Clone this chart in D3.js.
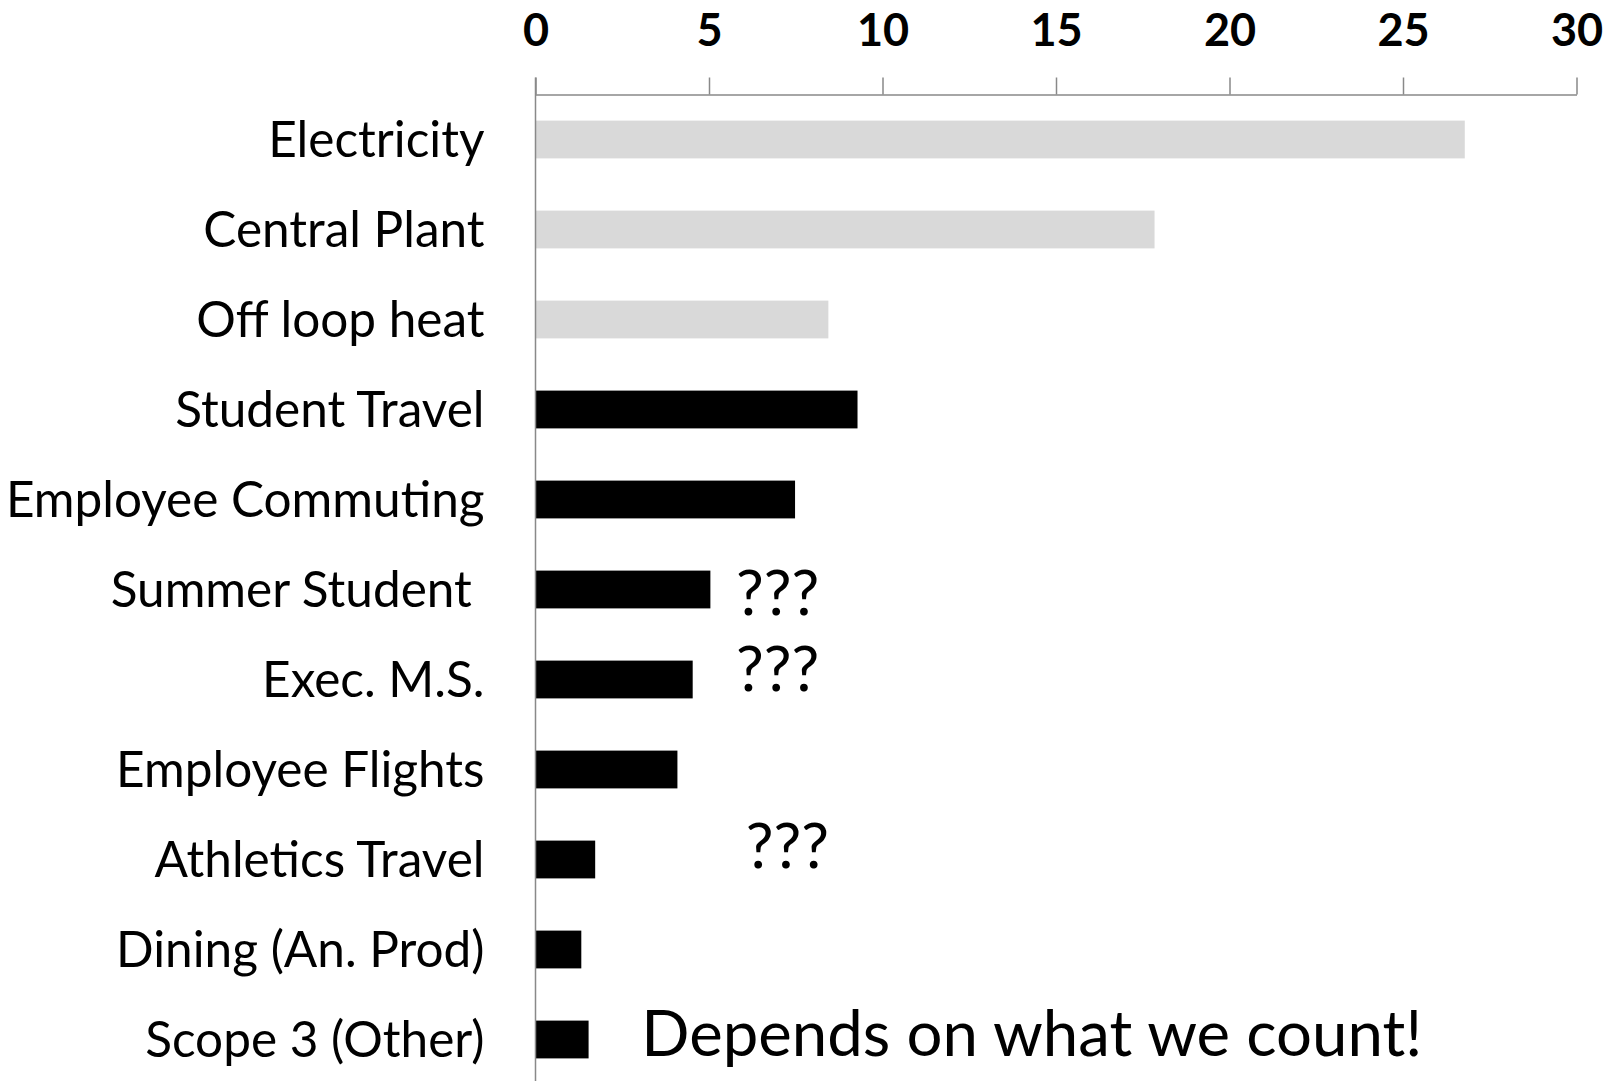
<!DOCTYPE html>
<html>
<head>
<meta charset="utf-8">
<script src="https://cdn.jsdelivr.net/npm/d3@7"></script>
<style>
  html, body { margin: 0; padding: 0; background: #fff; }
  svg { display: block; }
  text { font-family: Lato, "Open Sans", sans-serif; }
</style>
</head>
<body>
<svg id="chart" width="1608" height="1081"></svg>
<script>
// ---- data ----
const categories = ["Electricity", "Central Plant", "Off loop heat", "Student Travel",
  "Employee Commuting", "Summer Student ", "Exec. M.S.", "Employee Flights",
  "Athletics Travel", "Dining (An. Prod)", "Scope 3 (Other)"];
const values = [26.78, 17.84, 8.44, 9.28, 7.48, 5.04, 4.53, 4.09, 1.72, 1.32, 1.53];
const groups = ["energy", "energy", "energy", "travel", "travel", "travel", "travel", "travel", "travel", "travel", "travel"];
const tickValues = [0, 5, 10, 15, 20, 25, 30];
const annotations = [
  { text: "???", category: "Summer Student ", at: 5.78, dy: 25 },
  { text: "???", category: "Exec. M.S.", at: 5.78, dy: 11 },
  { text: "???", category: "Athletics Travel", at: 6.06, dy: 8.5 },
];
const note = { text: "Depends on what we count!", category: "Scope 3 (Other)", at: 3.05, dy: 16 };

// ---- layout ----
const svg = d3.select("#chart");
const x = d3.scaleLinear().domain([0, 30]).range([535.5, 1576.5]);
const y = d3.scaleBand().domain(categories).range([94.5, 1084.5]).paddingInner(0.58).paddingOuter(0.29);
const color = d3.scaleOrdinal().domain(["energy", "travel"]).range(["#d9d9d9", "#000000"]);

// bars
svg.append("g").selectAll("rect").data(categories).join("rect")
  .attr("x", x(0))
  .attr("y", d => y(d))
  .attr("width", (d, i) => x(values[i]) - x(0))
  .attr("height", y.bandwidth())
  .attr("fill", (d, i) => color(groups[i]));

// top axis
const xAxis = d3.axisTop(x).tickValues(tickValues).tickSize(17).tickSizeOuter(0).tickPadding(32);
const gx = svg.append("g").attr("transform", "translate(0,94.5)").call(xAxis);
gx.select(".domain").attr("stroke", "#898989").attr("stroke-width", 1.5);
gx.selectAll(".tick line").attr("stroke", "#898989").attr("stroke-width", 1.5);
gx.selectAll(".tick text").attr("font-family", "Lato, sans-serif").attr("font-weight", "bold")
  .attr("font-size", 45).attr("fill", "#000");

// left axis (line only, labels)
const yAxis = d3.axisLeft(y).tickSize(0).tickPadding(51);
const gy = svg.append("g").attr("transform", `translate(${x(0)},0)`).call(yAxis);
gy.select(".domain").attr("stroke", "#898989").attr("stroke-width", 1.5)
  .attr("d", `M0,${94.5 - 17}V1084.5`);
gy.selectAll(".tick text").attr("font-family", "Lato, sans-serif").attr("font-size", 49.5)
  .attr("fill", "#000").attr("dy", null).attr("dominant-baseline", null)
  .attr("y", 17).style("white-space", "pre");

// annotations
svg.append("g").selectAll("text").data(annotations).join("text")
  .attr("x", d => x(d.at))
  .attr("y", d => y(d.category) + y.bandwidth() / 2 + d.dy)
  .attr("font-size", 62).attr("fill", "#000")
  .text(d => d.text);

svg.append("text")
  .attr("x", x(note.at))
  .attr("y", y(note.category) + y.bandwidth() / 2 + note.dy)
  .attr("font-size", 63.5).attr("fill", "#000")
  .text(note.text);
</script>
</body>
</html>
